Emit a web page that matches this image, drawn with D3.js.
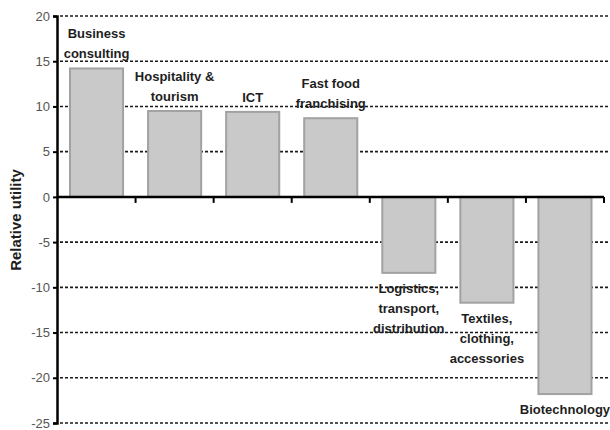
<!DOCTYPE html>
<html lang="en">
  <head>
    <meta charset="utf-8">
    <title>Relative utility</title>
    <script src="https://d3js.org/d3.v7.min.js"></script>
    <style>
      body { margin: 0; background: #fff; }
      .grid line { stroke: #1a1a1a; stroke-width: 1.6; stroke-dasharray: 3,2; }
      .lbl { font-family: "Liberation Sans", Arial, sans-serif; font-weight: bold; font-size: 13px; fill: #1e1e1e; }
      .tick text { font-family: "Liberation Sans", Arial, sans-serif; font-size: 13px; fill: #555; }
    </style>
  </head>
  <body>
    <div id="main"></div>
    <script>
      var categories = ["Business\nconsulting", "Hospitality &\ntourism", "ICT", "Fast food\nfranchising",
                        "Logistics,\ntransport,\ndistribution", "Textiles,\nclothing,\naccessories", "Biotechnology"];
      var values = [14.2, 9.5, 9.4, 8.7, -8.4, -11.7, -21.8];
      var yTicks = [20, 15, 10, 5, 0, -5, -10, -15, -20, -25];
      var yTitle = "Relative utility";

      var width = 610, height = 430;
      var svg = d3.select("#main").append("svg")
        .attr("width", width)
        .attr("height", height);

      var y = d3.scaleLinear().domain([-25, 20]).range([423, 16]);
      var x = d3.scaleBand().domain(categories).range([57.5, 604])
        .paddingInner(0.32).paddingOuter(0.16);

      // dotted gridlines
      svg.append("g").attr("class", "grid")
        .selectAll("line").data(yTicks.filter(function(d) { return d !== 0; })).enter().append("line")
          .attr("x1", 60).attr("x2", width)
          .attr("y1", function(d) { return y(d); })
          .attr("y2", function(d) { return y(d); });

      // bars
      svg.append("g").selectAll("rect").data(values).enter().append("rect")
        .attr("x", function(d, i) { return x(categories[i]); })
        .attr("y", function(d) { return y(Math.max(0, d)); })
        .attr("width", x.bandwidth())
        .attr("height", function(d) { return Math.abs(y(d) - y(0)); })
        .attr("fill", "#c9c9c9")
        .attr("stroke", "#a2a2a2")
        .attr("stroke-width", 2);

      // y axis (plain hyphen for negatives, like the original)
      var yAxis = d3.axisLeft(y).tickValues(yTicks).tickSize(4).tickPadding(3)
        .tickFormat(function(d) { return String(d); });
      var gy = svg.append("g").attr("transform", "translate(57,0)").call(yAxis);
      gy.select(".domain").attr("stroke", "#000").attr("stroke-width", 2.5);
      gy.selectAll(".tick line").attr("stroke", "#000").attr("stroke-width", 2);

      // x axis at zero with ticks at band boundaries
      var bounds = categories.map(function(c) { return x(c) + x.bandwidth() + x.step() * x.paddingInner() / 2; });
      svg.append("line")
        .attr("x1", 57).attr("x2", bounds[bounds.length - 1])
        .attr("y1", y(0)).attr("y2", y(0))
        .attr("stroke", "#000").attr("stroke-width", 2.5);
      svg.append("g").selectAll("line").data(bounds).enter().append("line")
        .attr("x1", function(d) { return d; }).attr("x2", function(d) { return d; })
        .attr("y1", y(0)).attr("y2", y(0) + 6)
        .attr("stroke", "#000").attr("stroke-width", 2);

      // bar labels
      var lineH = 20;
      categories.forEach(function(c, i) {
        var lines = c.split("\n");
        var v = values[i];
        var cx = x(c) + x.bandwidth() / 2;
        var t = svg.append("text").attr("class", "lbl").attr("text-anchor", "middle");
        lines.forEach(function(l, j) {
          var by;
          if (v >= 0) by = y(v) - 10 - (lines.length - 1 - j) * lineH;
          else by = y(v) + 20 + j * lineH;
          t.append("tspan").attr("x", cx).attr("y", by).text(l);
        });
      });

      // y axis title
      svg.append("text").attr("class", "lbl")
        .attr("transform", "translate(21,220) rotate(-90)")
        .attr("text-anchor", "middle")
        .style("font-size", "15px")
        .text(yTitle);
    </script>
  </body>
</html>
